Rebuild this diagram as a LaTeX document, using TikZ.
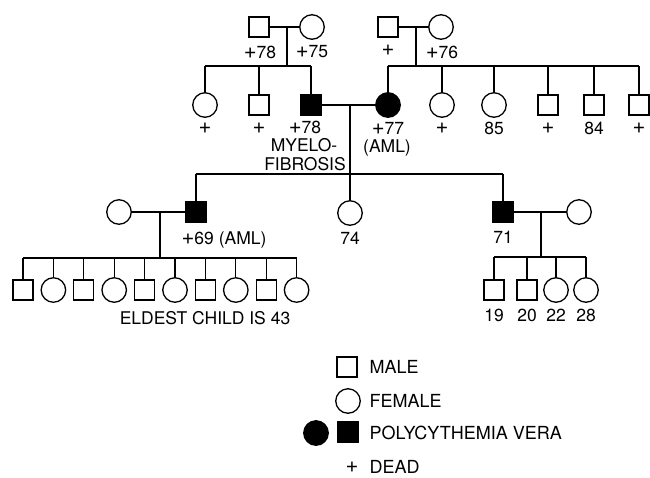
\documentclass[tikz,border=0pt]{standalone}
\usepackage{fontspec}
\setmainfont{TeX Gyre Heros}
\usetikzlibrary{calc}
\newcommand{\pl}{{\fontsize{22}{22}\selectfont+}}
\tikzset{
	male/.style={draw, rectangle, minimum size=20pt, inner sep=0pt, outer sep=0pt},
	female/.style={draw, circle, minimum size=24.5pt, inner sep=0pt, outer sep=0pt},
	sick/.style={fill=black},
	tag/.style={inner sep=0pt, font=\fontsize{17.5}{20}\selectfont},
	keytag/.style={inner sep=0pt, anchor=west, font=\fontsize{18}{20}\selectfont},
}

\begin{document}
\begin{tikzpicture}[x=1pt, y=-1pt, line width=1.3pt]
	%%%%% START %%%%%
	\useasboundingbox (0,0) rectangle (650,477);
	
	% grandparents, father's side
	\node[male] (gpaL) at (259,27) {};
	\node[female] (gmaL) at (312,27) {};
	\node[tag] (tgpaL) at (260,52) {\pl78};
	\node[tag] (tgmaL) at (312,52) {\pl75};
	\coordinate (mL) at (287,27);
	\coordinate (sibL) at (287,66);
	\draw (gpaL) -- (gmaL);
	\draw (mL) -- (sibL);
	
	% grandparents, mother's side
	\node[male] (gpaR) at (388,27) {};
	\node[female] (gmaR) at (441,27) {};
	\node[tag] (tgpaR) at (388,50) {\pl};
	\node[tag] (tgmaR) at (442,52) {\pl76};
	\coordinate (mR) at (416,27);
	\coordinate (sibR) at (416,66);
	\draw (gpaR) -- (gmaR);
	\draw (mR) -- (sibR);
	
	% father and his siblings
	\node[female] (a1) at (205,105) {};
	\node[male] (a2) at (259,105) {};
	\node[male, sick] (dad) at (311,105) {};
	\node[tag] (ta1) at (205,128) {\pl};
	\node[tag] (ta2) at (259,128) {\pl};
	\node[tag] (tdad) at (305,127) {\pl78};
	\node[tag] (tdad2) at (304,145) {MYELO-};
	\node[tag] (tdad3) at (305,164) {FIBROSIS};
	\draw (sibL -| a1) -- (sibL -| dad);
	\foreach \p in {a1,a2,dad}
		\draw (sibL -| \p) -- (\p);
	
	% mother and her siblings
	\node[female, sick] (mum) at (388,105) {};
	\node[female] (b1) at (442,105) {};
	\node[female] (b2) at (494,105) {};
	\node[male] (b3) at (548,105) {};
	\node[male] (b4) at (594,105) {};
	\node[male] (b5) at (639,105) {};
	\node[tag] (tmum) at (388,128) {\pl77};
	\node[tag] (tmum2) at (387,148) {(AML)};
	\node[tag] (tb1) at (442,128) {\pl};
	\node[tag] (tb2) at (494,128) {85};
	\node[tag] (tb3) at (548,128) {\pl};
	\node[tag] (tb4) at (594,128) {84};
	\node[tag] (tb5) at (639,128) {\pl};
	\draw (sibR -| mum) -- (sibR -| b5);
	\foreach \p in {mum,b1,b2,b3,b4,b5}
		\draw (sibR -| \p) -- (\p);
	
	% their children
	\draw (dad) -- (mum);
	\coordinate (mP) at (350,105);
	\coordinate (sibP) at (350,174);
	\draw (mP) -- (sibP);
	
	\node[male, sick] (sonL) at (196,212) {};
	\node[female] (wifeL) at (119,212) {};
	\node[female] (dau) at (350,213) {};
	\node[male, sick] (sonR) at (503,212) {};
	\node[female] (wifeR) at (579,212) {};
	\node[tag] (tsonL) at (224,240) {\pl69 (AML)};
	\node[tag] (tdau) at (350,238) {74};
	\node[tag] (tsonR) at (503,237) {71};
	\draw (sibP -| sonL) -- (sibP -| sonR);
	\foreach \p in {sonL,dau,sonR}
		\draw (sibP -| \p) -- (\p);
	
	% grandchildren, left
	\draw (wifeL) -- (sonL);
	\coordinate (mK) at (160,212);
	\coordinate (sibK) at (160,258);
	\draw (mK) -- (sibK);
	\foreach \i in {0,...,9} {
		\pgfmathsetmacro{\kx}{23+30.4*\i}
		\ifodd\i
			\node[female] (k\i) at (\kx,290) {};
		\else
			\node[male] (k\i) at (\kx,290) {};
		\fi
		\draw (sibK -| k\i) -- (k\i);
	}
	\draw (sibK -| k0) -- (sibK -| k9);
	\node[tag] (tk) at (205,318) {ELDEST CHILD IS 43};
	
	% grandchildren, right
	\draw (sonR) -- (wifeR);
	\coordinate (mQ) at (541,212);
	\coordinate (sibQ) at (541,257);
	\draw (mQ) -- (sibQ);
	\node[male] (q1) at (494,290) {};
	\node[male] (q2) at (527,290) {};
	\node[female] (q3) at (556,290) {};
	\node[female] (q4) at (586,290) {};
	\node[tag] (tq1) at (494,315) {19};
	\node[tag] (tq2) at (527,315) {20};
	\node[tag] (tq3) at (556,315) {22};
	\node[tag] (tq4) at (586,315) {28};
	\draw (sibQ -| q1) -- (sibQ -| q4);
	\foreach \p in {q1,q2,q3,q4}
		\draw (sibQ -| \p) -- (\p);
	
	% key
	\node[male] (keyM) at (347,367) {};
	\node[female] (keyF) at (348,401) {};
	\node[female, sick] (keyF2) at (316,433) {};
	\node[male, sick] (keyM2) at (348,432) {};
	\node[tag] (keyD) at (352,467) {\pl};
	\node[keytag] (tkeyM) at (369,367) {MALE};
	\node[keytag] (tkeyF) at (369,401) {FEMALE};
	\node[keytag] (tkeyP) at (369,433) {POLYCYTHEMIA VERA};
	\node[keytag] (tkeyD) at (369,467) {DEAD};
	%%%%% END %%%%%
\end{tikzpicture}
\end{document}
